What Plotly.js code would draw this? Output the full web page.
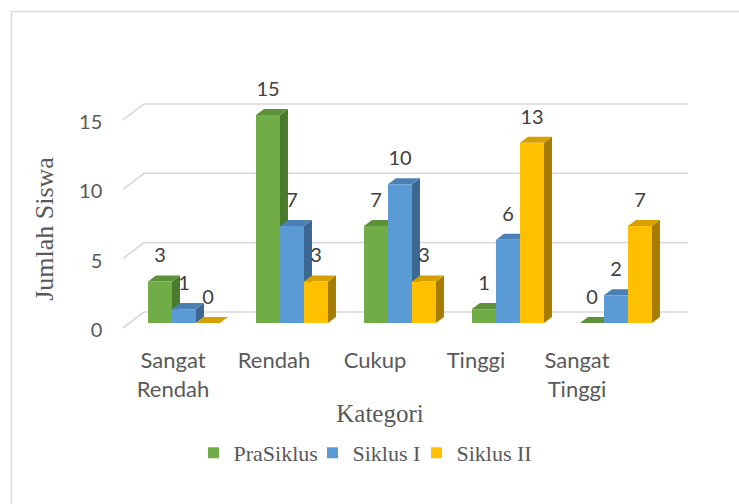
<!DOCTYPE html>
<html>
<head>
<meta charset="utf-8">
<script src="https://cdn.plot.ly/plotly-3.0.1.min.js"></script>
<style>
  html, body { margin: 0; padding: 0; background: #ffffff; }
  #chart { width: 739px; height: 504px; }
</style>
</head>
<body>
<div id="chart"></div>
<script>
// ---- data ----
const categories = ["Sangat<br>Rendah", "Rendah", "Cukup", "Tinggi", "Sangat<br>Tinggi"];
const seriesNames = ["PraSiklus", "Siklus I", "Siklus II"];
const praSiklus = [3, 15, 7, 1, 0];
const siklusI = [1, 7, 10, 6, 2];
const siklusII = [0, 3, 3, 13, 7];
const yTickVals = [0, 5, 10, 15];

// ---- styles ----
const seriesValues = [praSiklus, siklusI, siklusII];
const frontColors = ["#70AD47", "#5B9BD5", "#FFC000"];
const topColors = ["#5d9139", "#4a80b3", "#d6a100"];
const sideColors = ["#4a7a2b", "#3b6791", "#a67c00"];
const legendNames = ["legend", "legend2", "legend3"];
const legendX = [(193.5 - 60) / 640, (312.5 - 60) / 640, (416.5 - 60) / 640];

const barHalf = 0.1111, barStep = 0.2222;
const depthX = 0.074, depthY = 0.433;
const labelLift = 1.73;

const traces = [];

// gridlines (floor-to-back-wall perspective)
yTickVals.forEach(v => {
  traces.push({
    type: "scatter", mode: "lines", x: [-0.565, -0.370, 4.667],
    y: [v - 0.36, v + 0.793, v + 0.793],
    line: { color: "#d9d9d9", width: 1.6 }, hoverinfo: "skip", showlegend: false
  });
});

function poly(xs, ys, color) {
  traces.push({
    type: "scatter", mode: "lines", fill: "toself", fillcolor: color,
    x: xs.concat([xs[0]]), y: ys.concat([ys[0]]),
    line: { width: 0, color: color }, hoverinfo: "skip", showlegend: false
  });
}

categories.forEach((c, i) => {
  seriesValues.forEach((vals, s) => {
    const h = vals[i];
    const cx = i + (s - 1) * barStep;
    const x0 = cx - barHalf, x1 = cx + barHalf;
    poly([x1, x1 + depthX, x1 + depthX, x1], [0, depthY, h + depthY, h], sideColors[s]);
    poly([x0, x1, x1 + depthX, x0 + depthX], [h, h, h + depthY, h + depthY], topColors[s]);
    if (h > 0) poly([x0, x1, x1, x0], [0, 0, h, h], frontColors[s]);
  });
});

// data labels
seriesValues.forEach((vals, s) => {
  traces.push({
    type: "scatter", mode: "text",
    x: vals.map((v, i) => i + (s - 1) * barStep),
    y: vals.map(v => v + labelLift),
    text: vals.map(v => String(v)),
    textposition: "middle center", cliponaxis: false,
    textfont: { family: "Lato, 'Open Sans', sans-serif", size: 20, color: "#404040" },
    hoverinfo: "skip", showlegend: false
  });
});

// legend entries
seriesNames.forEach((n, s) => {
  traces.push({
    type: "scatter", mode: "markers", name: n, x: [null], y: [null],
    marker: { symbol: "square", size: 11, color: frontColors[s] },
    showlegend: true, legend: legendNames[s]
  });
});

// dummy trace to activate category / value label axes
traces.push({
  type: "scatter", mode: "markers", x: [0], y: [0], xaxis: "x2", yaxis: "y2",
  marker: { opacity: 0 }, hoverinfo: "skip", showlegend: false
});

const legendFont = { family: "'Liberation Serif', 'Times New Roman', serif", size: 22, color: "#595959" };
function legendAt(k) {
  return {
    orientation: "h", x: legendX[k], xanchor: "left", y: -0.403, yanchor: "middle",
    font: legendFont, itemwidth: 30, bgcolor: "rgba(0,0,0,0)"
  };
}

const layout = {
  width: 739, height: 504,
  margin: { l: 60, r: 39, t: 60, b: 164 },
  paper_bgcolor: "#ffffff", plot_bgcolor: "rgba(0,0,0,0)",
  showlegend: true,
  xaxis: { range: [-1.148, 4.778], visible: false, fixedrange: true },
  yaxis: { range: [-1.226, 18.96], visible: false, fixedrange: true },
  xaxis2: {
    anchor: "y2", range: [-1.119, 5.218],
    tickvals: [0, 1, 2, 3, 4], ticktext: categories,
    showgrid: false, zeroline: false, showline: false, ticks: "", ticklabelstandoff: 5,
    tickfont: { family: "Lato, 'Open Sans', sans-serif", size: 22, color: "#595959" },
    title: { text: "Kategori", font: { family: "'Liberation Serif', 'Times New Roman', serif", size: 25, color: "#595959" }, standoff: 3 }
  },
  yaxis2: {
    anchor: "free", position: 0.066, side: "left", domain: [0, 0.79286],
    range: [-0.721, 15.285], tickvals: yTickVals,
    showgrid: false, zeroline: false, showline: false, ticks: "",
    tickfont: { family: "Lato, 'Open Sans', sans-serif", size: 20, color: "#595959" },
    title: { text: "Jumlah Siswa", font: { family: "'Liberation Serif', 'Times New Roman', serif", size: 26, color: "#595959" }, standoff: 16 }
  },
  legend: legendAt(0),
  legend2: legendAt(1),
  legend3: legendAt(2),
  shapes: [{
    type: "rect", xref: "paper", yref: "paper",
    x0: (11.5 - 60) / 640, x1: (780 - 60) / 640,
    y0: (340 - 540) / 280, y1: (340 - 11.5) / 280,
    line: { color: "#d9d9d9", width: 1.5 }, fillcolor: "rgba(0,0,0,0)", layer: "below"
  }]
};

Plotly.newPlot("chart", traces, layout, { displayModeBar: false, staticPlot: true });
</script>
</body>
</html>
